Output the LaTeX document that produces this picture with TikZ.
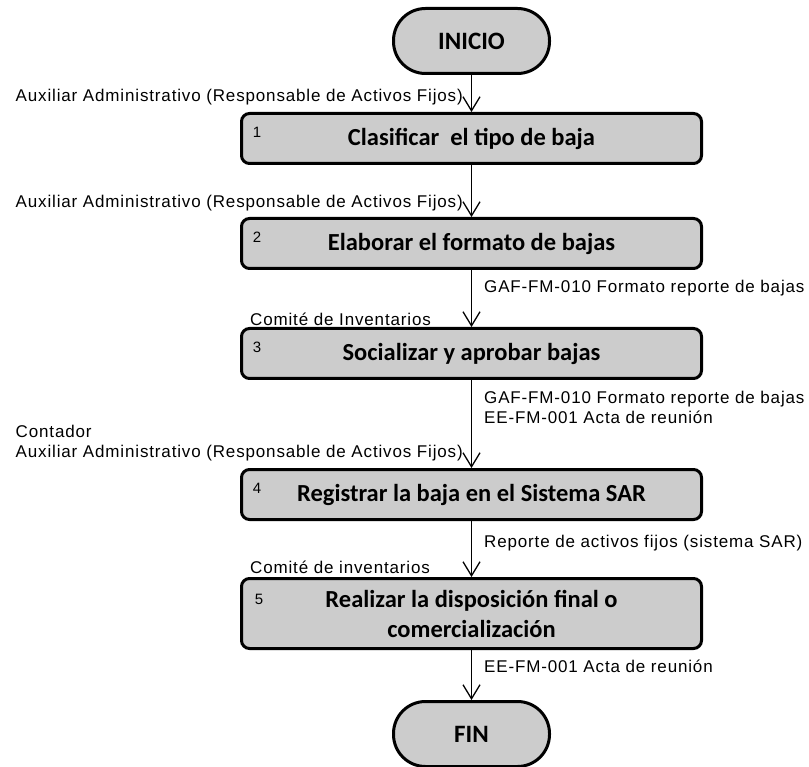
\documentclass[tikz,border=0pt]{standalone}
\usepackage{fontspec}
\setmainfont{Liberation Sans}
\newfontfamily\lblfont{Liberation Sans}[LetterSpace=5]
\newfontfamily\boxfont{Carlito}
\usetikzlibrary{arrows.meta}
\begin{document}
\begin{tikzpicture}[x=1pt,y=-1pt,
  stepbox/.style={draw=black, line width=3pt, fill=black!20, rounded corners=8pt,
    minimum width=460pt, minimum height=50pt, inner sep=0pt, align=center,
    font=\boxfont\bfseries\fontsize{24.5}{30}\selectfont},
  term/.style={draw=black, line width=3pt, fill=black!20, rounded corners=32pt,
    minimum width=156pt, minimum height=65pt, inner sep=0pt,
    font=\boxfont\bfseries\fontsize{25}{30}\selectfont},
  lbl/.style={inner sep=0pt, align=left, font=\lblfont\fontsize{17}{20}\selectfont},
  num/.style={inner sep=0pt, font=\fontsize{15}{18}\selectfont},
  arr/.style={line width=1.3pt, -{Straight Barb[length=14pt,width=17pt,line width=1.3pt]}}
]
\useasboundingbox (0,0) rectangle (809,767);

% terminals and steps
\node[term] (ini) at (471.5,41) {INICIO};
\node[stepbox] (b1) at (471.5,138.5) {Clasificar\ \ el tipo de baja};
\node[stepbox] (b2) at (471.5,243.5) {Elaborar el formato de bajas};
\node[stepbox] (b3) at (471.5,353.5) {Socializar y aprobar bajas};
\node[stepbox] (b4) at (471.5,494.5) {Registrar la baja en el Sistema SAR};
\node[stepbox, minimum height=70pt] (b5) at (471.5,613.5) {Realizar la disposición final o\\comercialización};
\node[term] (fin) at (471.5,734) {FIN};

% step numbers
\node[num] (n1) at ([xshift=17pt,yshift=-20pt]b1.north west) {1};
\node[num] (n2) at ([xshift=17pt,yshift=-20pt]b2.north west) {2};
\node[num] (n3) at ([xshift=17pt,yshift=-20pt]b3.north west) {3};
\node[num] (n4) at ([xshift=17pt,yshift=-20pt]b4.north west) {4};
\node[num] (n5) at ([xshift=19pt,yshift=-22pt]b5.north west) {5};

% connectors
\draw[arr] (ini) -- (b1);
\draw[arr] (b1) -- (b2);
\draw[arr] (b2) -- (b3);
\draw[arr] (b3) -- (b4);
\draw[arr] (b4) -- (b5);
\draw[arr] (b5) -- (fin);

% responsible labels (left)
\node[lbl, anchor=east] (r1) at (463,97) {Auxiliar Administrativo (Responsable de Activos Fijos)};
\node[lbl, anchor=east] (r2) at (463,203) {Auxiliar Administrativo (Responsable de Activos Fijos)};
\node[lbl, anchor=west] (r3) at (250,319) {Comité de Inventarios};
\node[lbl, anchor=east] (r4) at (463,443) {Contador\\Auxiliar Administrativo (Responsable de Activos Fijos)};
\node[lbl, anchor=west] (r5) at (250,567) {Comité de inventarios};

% document labels (right)
\node[lbl, anchor=west] (d2) at (484,288) {GAF-FM-010 Formato reporte de bajas};
\node[lbl, anchor=west] (d3) at (484,407) {GAF-FM-010 Formato reporte de bajas\\EE-FM-001 Acta de reunión};
\node[lbl, anchor=west] (d4) at (484,543) {Reporte de activos fijos (sistema SAR)};
\node[lbl, anchor=west] (d5) at (484,666) {EE-FM-001 Acta de reunión};
\end{tikzpicture}
\end{document}
